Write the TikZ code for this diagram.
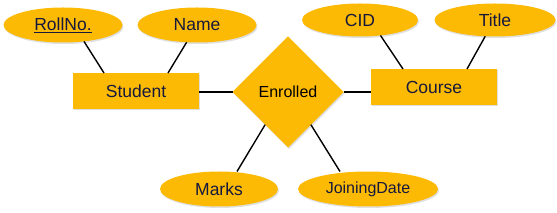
\documentclass[tikz,border=0pt]{standalone}
\usepackage{fontspec}
\setmainfont{Liberation Sans}
\usetikzlibrary{shapes.geometric,shadows}

\definecolor{erfill}{RGB}{253,186,5}
\definecolor{ertext}{RGB}{22,24,60}

\begin{document}
\begin{tikzpicture}[x=1pt, y=-1pt,
    base/.style={fill=erfill, text=ertext, inner sep=0pt, outer sep=0pt,
      drop shadow={opacity=0.25, shadow xshift=1pt, shadow yshift=-1.5pt},
      font=\fontsize{17.5}{20}\selectfont},
    entity/.style={base, rectangle, minimum width=126, minimum height=36},
    attrib/.style={base, ellipse, minimum width=119, minimum height=35},
    relation/.style={base, diamond, minimum width=111, minimum height=111, text=black},
    link/.style={draw=black, line width=1.4pt}]
  \useasboundingbox (0,0) rectangle (557,213);

  % Entities
  \node[entity] (student) at (136,91) {Student};
  \node[entity] (course)  at (434,87) {Course};

  % Relationship
  \node[relation, font=\fontsize{16}{18}\selectfont] (enrolled) at (288,92) {Enrolled};

  % Attributes
  \node[attrib] (roll)    at (63,25)  {\underline{RollNo.}};
  \node[attrib] (name)    at (197,25) {Name};
  \node[attrib, minimum width=116, minimum height=33] (cid)   at (360,20) {CID};
  \node[attrib, minimum width=121, minimum height=33] (title) at (495,20) {Title};
  \node[attrib, minimum width=118] (marks)   at (219,189) {Marks};
  \node[attrib, minimum width=140, font=\fontsize{16}{18}\selectfont] (joining) at (368,189) {JoiningDate};

  % Connectors
  \draw[link] (roll.-38) -- ([xshift=-32]student.north);
  \draw[link] (name.-121) -- ([xshift=32]student.north);
  \draw[link] (cid.-37) -- ([xshift=-31]course.north);
  \draw[link] (title.-121) -- ([xshift=33]course.north);
  \draw[link] (student.east |- enrolled.west) -- (enrolled.west);
  \draw[link] (enrolled.east) -- (enrolled.east -| course.west);
  \draw[link] (enrolled.-125) -- ([xshift=18]marks.north);
  \draw[link] (enrolled.-55) -- ([xshift=-28]joining.north);
\end{tikzpicture}
\end{document}
